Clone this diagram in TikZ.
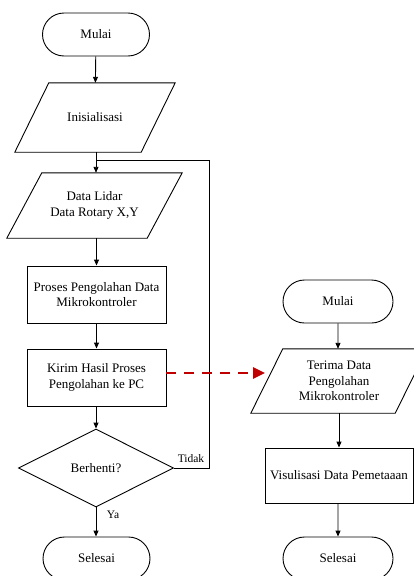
\documentclass[tikz,border=0pt]{standalone}
\usepackage{fontspec}
\setmainfont{Liberation Serif}
\usetikzlibrary{shapes.geometric,shapes.misc,arrows.meta,calc}
\definecolor{dred}{RGB}{192,0,0}
\begin{document}
\begin{tikzpicture}[x=1pt,y=-1pt,
  every node/.style={font=\fontsize{13}{15.5}\selectfont, align=center, inner sep=0pt},
  term/.style={draw, rounded rectangle, line width=0.9pt, minimum height=43pt},
  procbox/.style={draw, rectangle, line width=0.9pt},
  iobox/.style={rectangle},
  dec/.style={draw, diamond, line width=0.9pt},
  flow/.style={line width=0.9pt, -{Triangle[length=6pt,width=5pt]}},
  plain/.style={line width=0.9pt},
  lbl/.style={font=\fontsize{11.5}{13}\selectfont}
]
\useasboundingbox (0,0) rectangle (414,576);
\fill[white] (0,0) rectangle (414,576);

% left column
\node[term, minimum width=107pt] (m1) at (96,34.5) {Mulai};
\node[iobox, minimum width=160pt, minimum height=69pt] (ini) at (95,117.5) {Inisialisasi};
\draw[plain] (ini.south west) -- ($(ini.north west)+(34,0)$) -- (ini.north east) -- ($(ini.south east)+(-34,0)$) -- cycle;
\node[iobox, minimum width=175pt, minimum height=65pt] (lidar) at (94.5,205.5) {Data Lidar\\Data Rotary X,Y};
\draw[plain] (lidar.south west) -- ($(lidar.north west)+(35,0)$) -- (lidar.north east) -- ($(lidar.south east)+(-35,0)$) -- cycle;
\node[procbox, minimum width=139pt, minimum height=57pt] (proses) at (96.5,294.5) {Proses Pengolahan Data\\Mikrokontroler};
\node[procbox, minimum width=139pt, minimum height=57pt] (kirim) at (96.5,377.5) {Kirim Hasil Proses\\Pengolahan ke PC};
\node[dec, minimum width=155pt, minimum height=78pt] (dia) at (96,468) {Berhenti?};
\node[term, minimum width=107pt] (sel1) at (96.5,558.5) {Selesai};

\coordinate (j) at (96,160);
\coordinate (lp) at (209,160);
\node[lbl] (tidak) at (191,459) {Tidak};
\node[lbl] (ya) at (113,515) {Ya};

\draw[flow] (m1) -- (ini);
\draw[plain] (ini.south -| j) -- (j);
\draw[flow] (j) -- (lidar.north -| j);
\draw[flow] (lidar.south -| proses) -- (proses);
\draw[flow] (proses) -- (kirim);
\draw[flow] (kirim.south -| dia) -- (dia);
\draw[flow] (dia) -- (sel1.north -| dia);
\draw[plain] (dia.east) -| (lp) -- (j);

% right column
\node[term, minimum width=110pt] (m2) at (338,301.5) {Mulai};
\node[iobox, minimum width=176pt, minimum height=64pt] (terima) at (339,381) {Terima Data\\Pengolahan\\Mikrokontroler};
\draw[plain] (terima.south west) -- ($(terima.north west)+(32,0)$) -- (terima.north east) -- ($(terima.south east)+(-32,0)$) -- cycle;
\node[procbox, minimum width=148pt, minimum height=55pt] (vis) at (339,475.5) {Visulisasi Data Pemetaaan};
\node[term, minimum width=110pt] (sel2) at (338,558.5) {Selesai};

\draw[flow] (m2) -- (m2 |- terima.north);
\draw[flow] (terima.south -| vis) -- (vis);
\draw[flow] (vis.south -| sel2) -- (sel2);

% dashed transfer
\coordinate (re) at (265,373);
\draw[dred, line width=2.5pt, dash pattern=on 10pt off 8pt, -{Triangle[length=12pt,width=11pt]}] (kirim.east |- re) -- (re);
\end{tikzpicture}
\end{document}
